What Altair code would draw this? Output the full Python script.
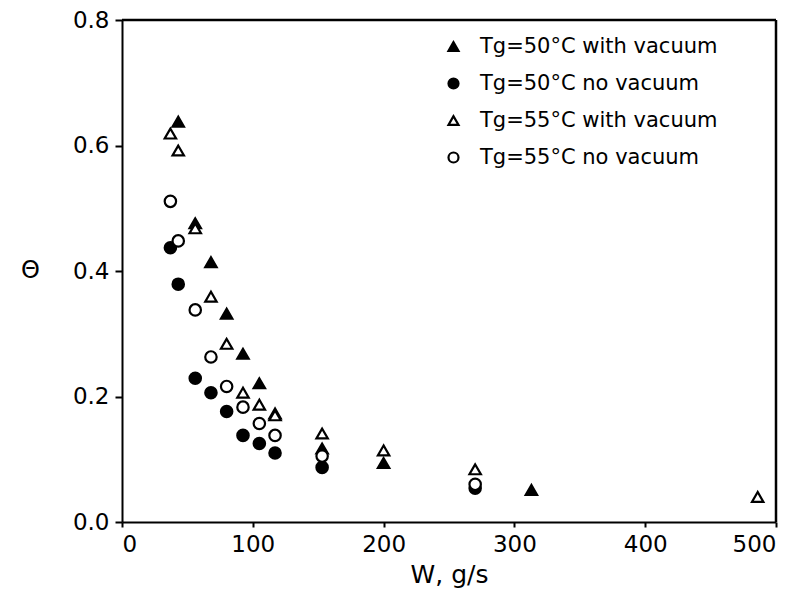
import altair as alt
import pandas as pd

series_names = ["Tg=50°C with vacuum", "Tg=50°C no vacuum",
                "Tg=55°C with vacuum", "Tg=55°C no vacuum"]

w_50v = [43, 56, 68, 80, 92.5, 105, 117, 153, 200, 313]
t_50v = [0.638, 0.476, 0.414, 0.332, 0.268, 0.221, 0.173, 0.117, 0.094, 0.051]

w_50n = [37, 43, 56, 68, 80, 92.5, 105, 117, 153, 270]
t_50n = [0.437, 0.379, 0.229, 0.206, 0.176, 0.138, 0.125, 0.110, 0.087, 0.054]

w_55v = [37, 43, 56, 68, 80, 92.5, 105, 117, 153, 200, 270, 486]
t_55v = [0.619, 0.592, 0.468, 0.359, 0.284, 0.206, 0.187, 0.170, 0.141, 0.114, 0.084, 0.040]

w_55n = [37, 43, 56, 68, 80, 92.5, 105, 117, 153, 270]
t_55n = [0.511, 0.448, 0.338, 0.263, 0.216, 0.183, 0.157, 0.138, 0.105, 0.060]

x_domain = [0, 500]
y_domain = [0.0, 0.8]
x_ticks = [0, 100, 200, 300, 400, 500]
y_ticks = [0.0, 0.2, 0.4, 0.6, 0.8]

rows = []
for name, ws, ts, order in [(series_names[0], w_50v, t_50v, 0),
                            (series_names[1], w_50n, t_50n, 1),
                            (series_names[2], w_55v, t_55v, 2),
                            (series_names[3], w_55n, t_55n, 3)]:
    for w, t in zip(ws, ts):
        rows.append({"W": w, "Theta": t, "series": name, "ord": order})
df = pd.DataFrame(rows)

top_df = pd.DataFrame({"ytop": [y_domain[1]]})
right_df = pd.DataFrame({"xright": [x_domain[1]]})

FONT = "DejaVu Sans"

axis_common = dict(grid=False, tickWidth=2, domainWidth=2, domainColor="black",
                   tickColor="black", labelFontSize=23, labelColor="black",
                   titleColor="black", titleFontWeight="normal",
                   labelFont=FONT, titleFont=FONT)

xscale = alt.Scale(domain=x_domain, nice=False)
yscale = alt.Scale(domain=y_domain, nice=False)

points = alt.Chart(df).mark_point(filled=False, size=130, strokeWidth=2.2, opacity=1).encode(
    x=alt.X("W:Q", scale=xscale,
            axis=alt.Axis(title="W, g/s", values=x_ticks, format="d",
                          tickSize=5, labelPadding=6, titleFontSize=25,
                          titlePadding=6, **axis_common)),
    y=alt.Y("Theta:Q", scale=yscale,
            axis=alt.Axis(title="Θ", values=y_ticks, format=".1f",
                          tickSize=7, labelPadding=6, titleFontSize=24,
                          titleAngle=0, titleX=-92, titleY=250,
                          titleAlign="center", titleBaseline="middle",
                          **axis_common)),
    shape=alt.Shape("series:N", scale=alt.Scale(domain=series_names,
                    range=["triangle-up", "circle", "triangle-up", "circle"]),
                    legend=alt.Legend(title=None, orient="none", legendX=321, legendY=16,
                                      labelFontSize=21, labelFont=FONT, labelColor="black",
                                      labelLimit=0, symbolSize=100, symbolStrokeWidth=2.2,
                                      rowPadding=15, labelOffset=16, padding=0)),
    fill=alt.Fill("series:N", scale=alt.Scale(domain=series_names,
                  range=["black", "black", "white", "white"])),
    stroke=alt.Stroke("series:N", scale=alt.Scale(domain=series_names,
                      range=["black", "black", "black", "black"])),
    order=alt.Order("ord:Q"),
)

top_rule = alt.Chart(top_df).mark_rule(color="#000000", strokeWidth=2.5).encode(
    y=alt.Y("ytop:Q", scale=yscale),
)
right_rule = alt.Chart(right_df).mark_rule(color="#000000", strokeWidth=2.5).encode(
    x=alt.X("xright:Q", scale=xscale),
)

chart = alt.layer(top_rule, right_rule, points).properties(
    width=654, height=502,
    background="white",
    autosize=alt.AutoSizeParams(type="none"),
    padding={"left": 114, "top": 12, "right": 10, "bottom": 70},
).configure_view(strokeWidth=0)

chart.save("out.html", embed_options={"renderer": "svg", "actions": False})
